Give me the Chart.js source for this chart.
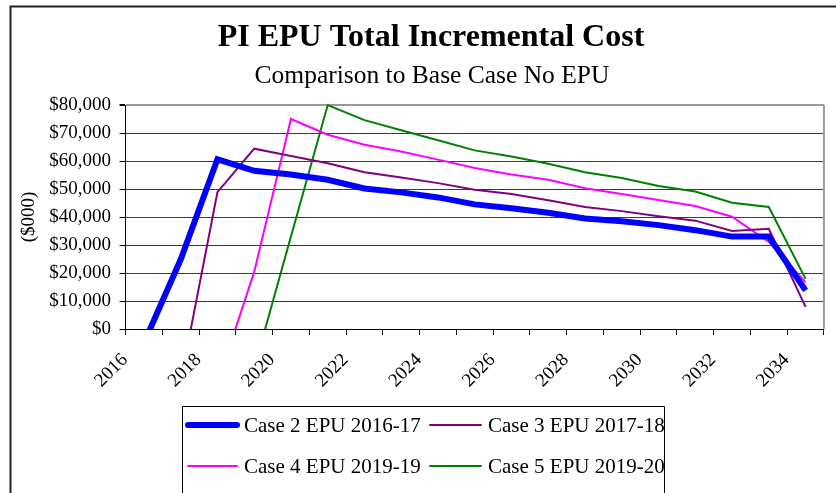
<!DOCTYPE html>
<html>
<head>
<meta charset="utf-8">
<script src="https://cdn.jsdelivr.net/npm/chart.js@4/dist/chart.umd.min.js"></script>
<style>
  body { margin: 0; background: #fff; }
  canvas { display: block; }
</style>
</head>
<body>
<canvas id="myChart" width="836" height="493"></canvas>
<script>
// years on the category axis
var years = ['2016', '2017', '2018', '2019', '2020', '2021', '2022', '2023', '2024', '2025',
             '2026', '2027', '2028', '2029', '2030', '2031', '2032', '2033', '2034'];

// incremental cost, $000 (values below zero are cut off by the axis)
var case2 = [-5000, 24800, 60600, 56500, 55200, 53300, 50200, 48800, 47000, 44500,
             43100, 41500, 39500, 38500, 37100, 35300, 33000, 33000, 13800];
var case3 = [null, -18600, 48900, 64400, 61800, 59200, 56000, 54100, 52100, 49700,
             48200, 46000, 43600, 42100, 40300, 38700, 35000, 35800, 7900];
var case4 = [null, null, -19500, 20400, 75000, 69400, 65800, 63400, 60500, 57500,
             55200, 53300, 50300, 48200, 46100, 43900, 40100, 31100, 16700];
var case5 = [null, null, null, -14000, 33000, 80000, 74600, 71000, 67400, 63800,
             61600, 59000, 56000, 53900, 51100, 49100, 45100, 43600, 17900];

var titleText = 'PI EPU Total Incremental Cost';
var subtitleText = 'Comparison to Base Case No EPU';

var serif = "'Liberation Serif', 'Times New Roman', serif";

function makeSet(label, data, color, width) {
    return {
        label: label,
        data: data,
        borderColor: color,
        backgroundColor: color,
        borderWidth: width,
        pointRadius: 0,
        tension: 0,
        fill: false,
        clip: {left: false, top: false, right: false, bottom: 0}
    };
}

// frame, titles (centred on the whole chart frame), plot border and the boxed legend
var decor = {
    id: 'decor',
    beforeDatasetsDraw: function(chart) {
        var c = chart.ctx, a = chart.chartArea;
        c.save();
        c.strokeStyle = '#9a9a9a';
        c.lineWidth = 2;
        c.beginPath();
        c.moveTo(a.right, a.top);
        c.lineTo(a.right, a.bottom);
        c.stroke();
        c.restore();
    },
    afterDraw: function(chart) {
        var c = chart.ctx;
        c.save();
        // outer frame
        c.strokeStyle = '#222';
        c.lineWidth = 2;
        c.beginPath();
        c.moveTo(10.5, 500);
        c.lineTo(10.5, 6.5);
        c.lineTo(840, 6.5);
        c.stroke();

        c.fillStyle = '#000';
        c.textAlign = 'center';
        c.textBaseline = 'middle';
        c.font = 'bold 32px ' + serif;
        c.fillText(titleText, 431, 38);
        c.font = '25.5px ' + serif;
        c.fillText(subtitleText, 432, 76);

        // legend box
        c.textAlign = 'left';
        c.lineWidth = 1;
        c.strokeStyle = '#000';
        c.beginPath();
        c.moveTo(182.5, 500);
        c.lineTo(182.5, 406.5);
        c.lineTo(664.5, 406.5);
        c.lineTo(664.5, 500);
        c.stroke();
        var cols = [[188, 241], [430, 485]];
        var rows = [425, 466];
        c.font = '21px ' + serif;
        chart.data.datasets.forEach(function(ds, i) {
            var col = cols[i % 2], y = rows[Math.floor(i / 2)];
            c.strokeStyle = ds.borderColor;
            c.lineWidth = ds.borderWidth;
            c.lineCap = 'round';
            c.beginPath();
            c.moveTo(col[0], y);
            c.lineTo(col[1] - 4, y);
            c.stroke();
            c.fillText(ds.label, col[1] + 3, y + 1);
        });
        c.restore();
    }
};

var ctx = document.getElementById('myChart').getContext('2d');

var myChart = new Chart(ctx, {
    type: 'line',
    data: {
        labels: years,
        datasets: [
            makeSet('Case 2 EPU 2016-17', case2, '#0000ff', 6),
            makeSet('Case 3 EPU 2017-18', case3, '#800080', 2),
            makeSet('Case 4 EPU 2019-19', case4, '#ff00ff', 2),
            makeSet('Case 5 EPU 2019-20', case5, '#008000', 2)
        ]
    },
    options: {
        responsive: false,
        animation: false,
        layout: {
            padding: {left: 16, right: 12, top: 105, bottom: 87}
        },
        plugins: {
            legend: { display: false },
            tooltip: { enabled: false },
            title: { display: false },
            subtitle: { display: false }
        },
        scales: {
            x: {
                offset: true,
                grid: {
                    offset: true,
                    drawOnChartArea: false,
                    drawTicks: true,
                    tickLength: 6,
                    tickColor: '#000'
                },
                border: { color: '#000', width: 1 },
                ticks: {
                    autoSkip: false,
                    minRotation: 45,
                    maxRotation: 45,
                    labelOffset: -19,
                    padding: 14,
                    color: '#000',
                    font: { family: serif, size: 19 },
                    callback: function(v, i) {
                        return i % 2 === 0 ? this.getLabelForValue(v) : '';
                    }
                }
            },
            y: {
                min: 0,
                max: 80000,
                grid: {
                    color: function(c) { return c.tick && c.tick.value === 80000 ? '#9a9a9a' : '#3a3a3a'; },
                    lineWidth: function(c) { return c.tick && c.tick.value === 80000 ? 2 : 1; },
                    tickLength: 6,
                    tickColor: '#000'
                },
                border: { color: '#000', width: 1 },
                ticks: {
                    stepSize: 10000,
                    padding: 8.5,
                    color: '#000',
                    font: { family: serif, size: 19 },
                    callback: function(v) { return '$' + v.toLocaleString('en-US'); }
                },
                title: {
                    display: true,
                    text: '($000)',
                    color: '#000',
                    font: { family: serif, size: 19 },
                    padding: { top: 2, bottom: 0 }
                }
            }
        }
    },
    plugins: [decor]
});
</script>
</body>
</html>
